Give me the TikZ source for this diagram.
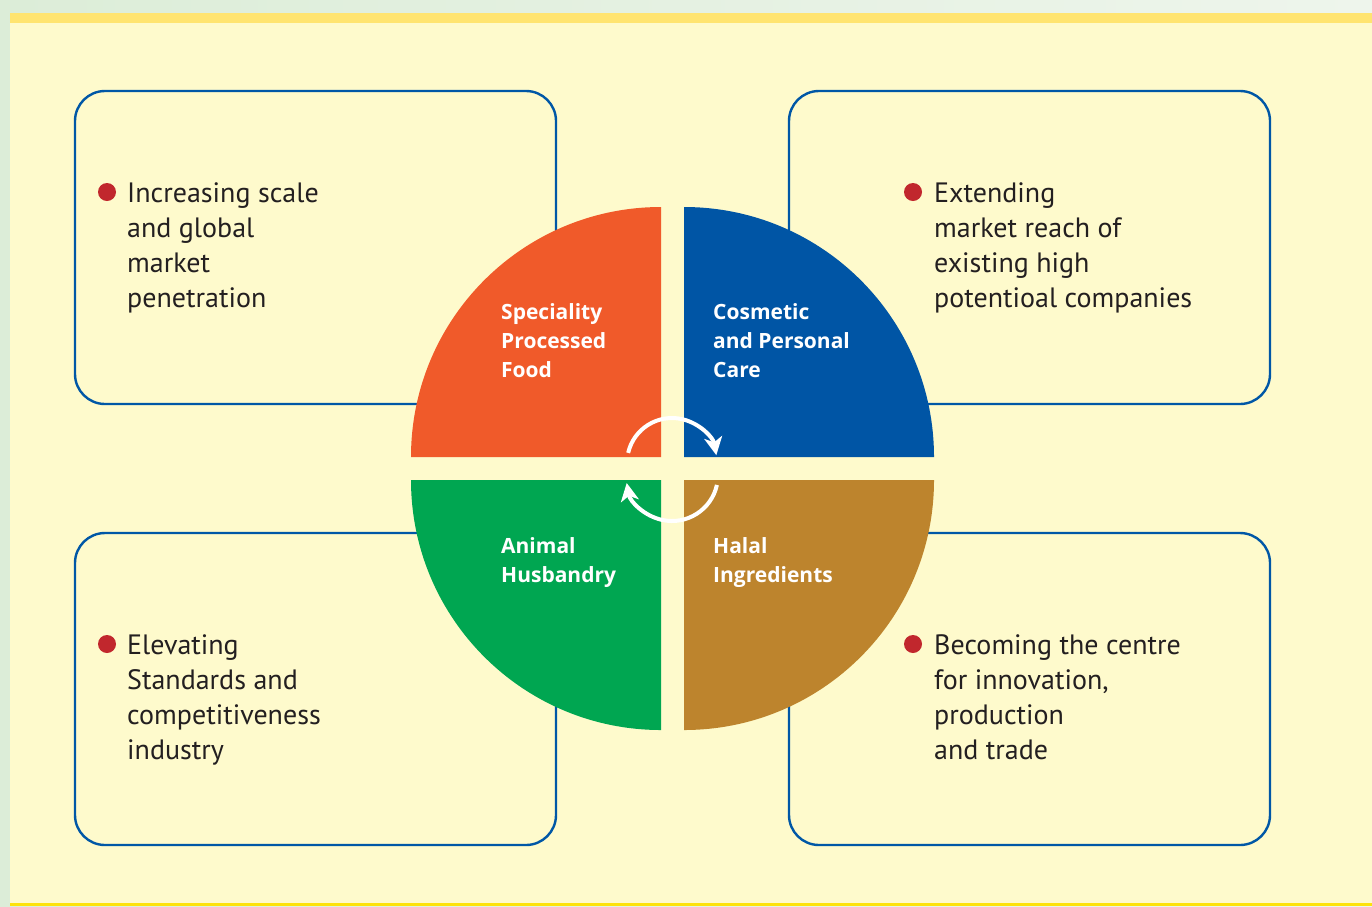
\documentclass[tikz,border=0pt]{standalone}
\usepackage{fontspec}
\setmainfont{PT Sans}
\newfontfamily\quadfont{Open Sans}
\usetikzlibrary{arrows.meta,calc}
\definecolor{outerbg}{HTML}{DCEDD8}
\definecolor{outerbg2}{HTML}{EEF5EC}
\definecolor{panel}{HTML}{FEFACC}
\definecolor{topstrip}{HTML}{FFE470}
\definecolor{botstrip}{HTML}{FDE20B}
\definecolor{boxblue}{HTML}{0057A6}
\definecolor{qorange}{HTML}{F05A2A}
\definecolor{qblue}{HTML}{0055A5}
\definecolor{qgreen}{HTML}{00A651}
\definecolor{qbrown}{HTML}{BD842D}
\definecolor{bulletred}{HTML}{C1272D}
\definecolor{textdark}{HTML}{231F20}
\tikzset{
  x=1pt, y=-1pt,
  infobox/.style={draw=boxblue, line width=2.4pt, rounded corners=30pt},
  bodytext/.style={anchor=base west, inner sep=0pt, align=left, text=textdark,
    font=\fontsize{28}{35}\selectfont},
  quadtext/.style={anchor=base west, inner sep=0pt, align=left, text=white,
    font=\quadfont\fontsize{21}{29}\selectfont\bfseries},
  bulletdot/.style={circle, fill=bulletred, inner sep=0pt, minimum size=18pt},
  cyclearrow/.style={draw=white, line width=4pt, -{Stealth[length=18pt,width=18pt,inset=5pt]}}
}
\begin{document}
\begin{tikzpicture}
\useasboundingbox (0,0) rectangle (1372,906);
% background
\shade[left color=outerbg, right color=outerbg2] (0,0) rectangle (1372,906);
\fill[panel] (10,23) rectangle (1372,906);
\fill[topstrip] (10,13) rectangle (1372,23);
\fill[botstrip] (10,903) rectangle (1372,906);
% boxes
\draw[infobox] (75,91) rectangle (556,404);
\draw[infobox] (789,91) rectangle (1270,404);
\draw[infobox] (75,533) rectangle (556,845);
\draw[infobox] (789,533) rectangle (1270,845);
% quadrants
\fill[qorange] (661,457) -- (411,457) arc[start angle=180, end angle=270, radius=250] -- cycle;
\fill[qblue] (684,457) -- (934,457) arc[start angle=0, end angle=-90, radius=250] -- cycle;
\fill[qgreen] (661,480) -- (411,480) arc[start angle=180, end angle=90, radius=250] -- cycle;
\fill[qbrown] (684,480) -- (934,480) arc[start angle=0, end angle=90, radius=250] -- cycle;
% cycle arrows
\coordinate (ctop) at (672,463);
\coordinate (cbot) at (672,475);
\draw[cyclearrow] ($(ctop)+(193:45)$) arc[start angle=193, end angle=350, radius=45];
\draw[cyclearrow] ($(cbot)+(12.5:46)$) arc[start angle=12.5, end angle=170, radius=46];
% quadrant labels (base anchor = last line)
\node[quadtext] (qa) at (501,377) {Speciality\\Processed\\Food};
\node[quadtext] (qb) at (713,377) {Cosmetic\\and Personal\\Care};
\node[quadtext] (qc) at (501,582) {Animal\\Husbandry};
\node[quadtext] (qd) at (713,582) {Halal\\Ingredients};
% box texts (base anchor = last line)
\node[bulletdot] (b1) at (107,192) {};
\node[bodytext] (t1) at (127,307) {Increasing scale\\and global\\market\\penetration};
\node[bulletdot] (b2) at (913,192) {};
\node[bodytext] (t2) at (934,307) {Extending\\market reach of\\existing high\\potentioal companies};
\node[bulletdot] (b3) at (107,644) {};
\node[bodytext] (t3) at (127,759) {Elevating\\Standards and\\competitiveness\\industry};
\node[bulletdot] (b4) at (913,644) {};
\node[bodytext] (t4) at (934,759) {Becoming the centre\\for innovation,\\production\\and trade};
\end{tikzpicture}
\end{document}
